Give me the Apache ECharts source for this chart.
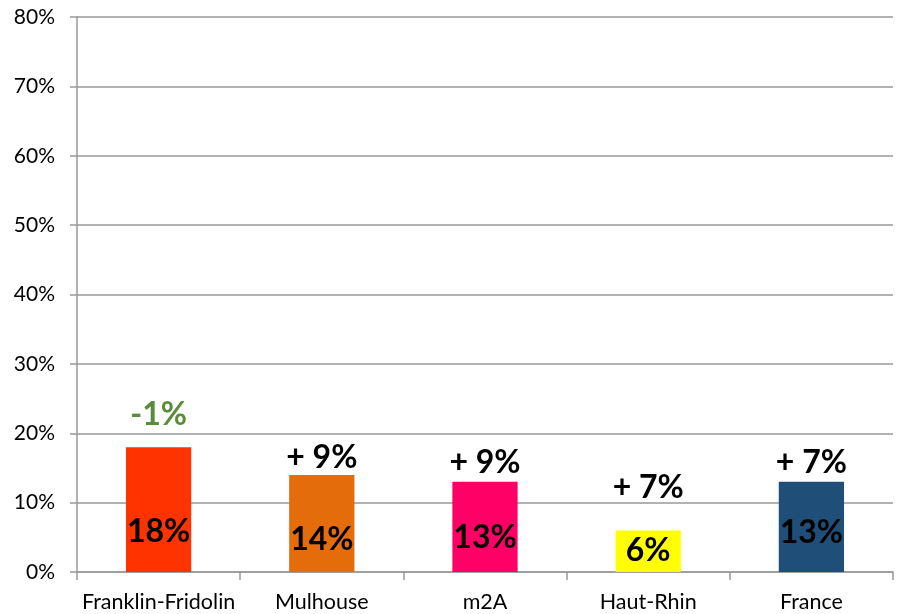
<!DOCTYPE html>
<html><head><meta charset="utf-8">
<script src="https://cdn.jsdelivr.net/npm/echarts@6/dist/echarts.min.js"></script>
<style>html,body{margin:0;padding:0;background:#fff}#c{width:903px;height:614px}</style>
</head><body><div id="c"></div>
<script>
const categories = ['Franklin-Fridolin', 'Mulhouse', 'm2A', 'Haut-Rhin', 'France'];
const shares = [18, 14, 13, 6, 13];
const changes = ['-1%', '+ 9%', '+ 9%', '+ 7%', '+ 7%'];
const barColors = ['#FF3300', '#E46C0A', '#FF0066', '#FFFF00', '#1F4E79'];
const changeColors = ['#5B8C3A', '#000000', '#000000', '#000000', '#000000'];
const yTicks = [0, 10, 20, 30, 40, 50, 60, 70, 80];
// label placement (style only)
const innerLabelDistance = [24, 16, 18, 5, 23];
const changeLabelDistance = [16, 1, 3, 27, 3];

const FONT = 'Lato, "Open Sans", sans-serif';
const chart = echarts.init(document.getElementById('c'));
chart.setOption({
  animation: false,
  grid: {left: 77, right: 10, top: 17, bottom: 42},
  xAxis: {
    type: 'category', data: categories,
    axisLine: {lineStyle: {color: '#999', width: 1.5}},
    axisTick: {show: true, length: 8, lineStyle: {color: '#999', width: 1.5}},
    axisLabel: {color: '#000', fontSize: 21.5, fontFamily: FONT, margin: 19, interval: 0}
  },
  yAxis: {
    type: 'value', min: yTicks[0], max: yTicks[yTicks.length - 1], interval: 10,
    axisLine: {show: true, lineStyle: {color: '#999', width: 1.5}},
    axisTick: {show: true, length: 7, lineStyle: {color: '#999', width: 1.5}},
    splitLine: {lineStyle: {color: '#999', width: 1.5}},
    axisLabel: {color: '#000', fontSize: 21, fontFamily: FONT, margin: 22, formatter: v => v + '%'}
  },
  series: [
    {
      type: 'bar', barWidth: '40%',
      data: shares.map((v, i) => ({value: v, itemStyle: {color: barColors[i]},
        label: {distance: innerLabelDistance[i]}})),
      label: {show: true, position: 'insideBottom', color: '#000',
        fontSize: 32, fontWeight: 'bold', fontFamily: FONT, formatter: p => p.value + '%'},
      z: 2
    },
    {
      type: 'bar', barWidth: '40%', barGap: '-100%',
      data: shares.map((v, i) => ({value: v, label: {color: changeColors[i], distance: changeLabelDistance[i]}})),
      itemStyle: {color: 'rgba(0,0,0,0)'},
      label: {show: true, position: 'top',
        fontSize: 32, fontWeight: 'bold', fontFamily: FONT, formatter: p => changes[p.dataIndex]},
      z: 3
    }
  ]
});
</script></body></html>
